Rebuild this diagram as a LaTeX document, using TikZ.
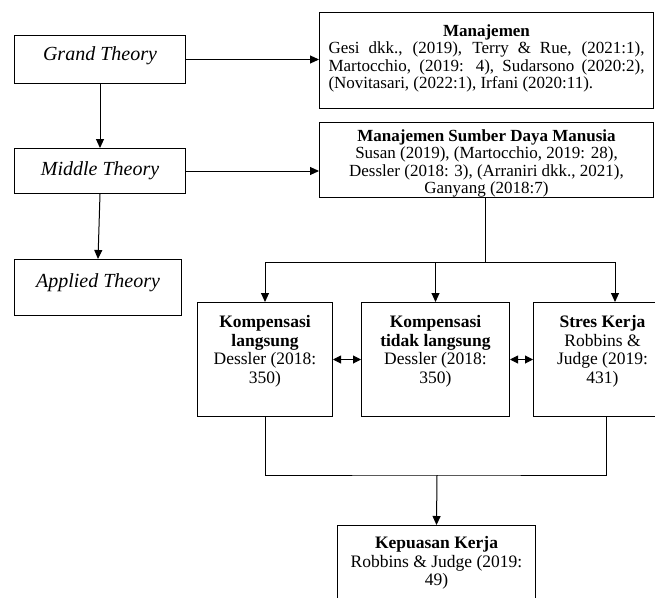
\documentclass[tikz,border=0pt]{standalone}
\usepackage{fontspec}
\setmainfont{Liberation Serif}
\usetikzlibrary{arrows.meta}

\tikzset{
  box/.style={draw, line width=1pt, inner sep=0pt, anchor=north west, align=center},
  theory/.style={box, font=\fontsize{20}{24}\selectfont\itshape},
  refbox/.style={box, font=\fontsize{17}{17.5}\selectfont},
  varbox/.style={box, font=\fontsize{17.5}{18.5}\selectfont},
  link/.style={line width=1pt},
  arr/.style={link, -{Triangle[length=9pt,width=8pt]}},
  darr/.style={link, {Triangle[length=8pt,width=8pt]}-{Triangle[length=8pt,width=8pt]}},
}

\begin{document}
\begin{tikzpicture}[x=1pt,y=-1pt]
 \useasboundingbox (0,0) rectangle (655,597);
 \node[theory, minimum width=171pt, text height=24.5pt, text depth=23.5pt] (grand) at (14,35) {Grand Theory};
 \node[theory, minimum width=171pt, text height=26.5pt, text depth=18.5pt] (middle) at (14,148) {Middle Theory};
 \node[theory, minimum width=167pt, text height=27.5pt, text depth=28.5pt] (applied) at (14,259) {Applied Theory};
 \node[refbox, minimum width=334pt, text height=76pt, text depth=20pt] (mgmt) at (319,12)
   {\textbf{Manajemen}\\
    \makebox[316pt][s]{Gesi dkk., (2019), Terry \& Rue, (2021:1),}\\
    \makebox[316pt][s]{Martocchio, (2019: 4), Sudarsono (2020:2),}\\
    \makebox[316pt][l]{(Novitasari, (2022:1), Irfani (2020:11).}};
 \node[refbox, minimum width=334pt, text height=71pt, text depth=4pt] (msdm) at (319,122)
   {\textbf{Manajemen Sumber Daya Manusia}\\
    Susan (2019), (Martocchio, 2019: 28),\\
    Dessler (2018: 3), (Arraniri dkk., 2021),\\
    Ganyang (2018:7)};
 \node[varbox, minimum width=135pt, text height=80.5pt, text depth=33.5pt] (kl) at (197,302)
   {\textbf{Kompensasi}\\ \textbf{langsung}\\ Dessler (2018:\\ 350)};
 \node[varbox, minimum width=148pt, text height=80.5pt, text depth=33.5pt] (ktl) at (361,302)
   {\textbf{Kompensasi}\\ \textbf{tidak langsung}\\ Dessler (2018:\\ 350)};
 \node[varbox, minimum width=138pt, text height=80.5pt, text depth=33.5pt] (stres) at (533,302)
   {\textbf{Stres Kerja}\\ Robbins \&\\ Judge (2019:\\ 431)};
 \node[varbox, minimum width=198pt, text height=60pt, text depth=53pt] (kepuasan) at (337,525)
   {\textbf{Kepuasan Kerja}\\ Robbins \& Judge (2019:\\ 49)};

 \draw[arr] (grand.south) -- (middle.north);
 \draw[arr] (middle.south) -- (applied.north);
 \draw[arr] (grand.east) -- (grand.east -| mgmt.west);
 \draw[arr] (middle.east) -- (middle.east -| msdm.west);

 \coordinate (hub) at (485,262);
 \coordinate (stresin) at (615,302);
 \draw[link] (msdm.south -| hub) -- (hub);
 \draw[arr] (hub) -| (kl.north);
 \draw[arr] (hub -| ktl.north) -- (ktl.north);
 \draw[arr] (hub) -| (stresin);
 \draw[darr] (kl.east) -- (ktl.west);
 \draw[darr] (ktl.east) -- (stres.west);

 \coordinate (join) at (437,475);
 \coordinate (stresout) at (606,416);
 \draw[link] (kl.south) |- (join) -| (stresout);
 \draw[arr] (join) -- (kepuasan.north);
\end{tikzpicture}
\end{document}
